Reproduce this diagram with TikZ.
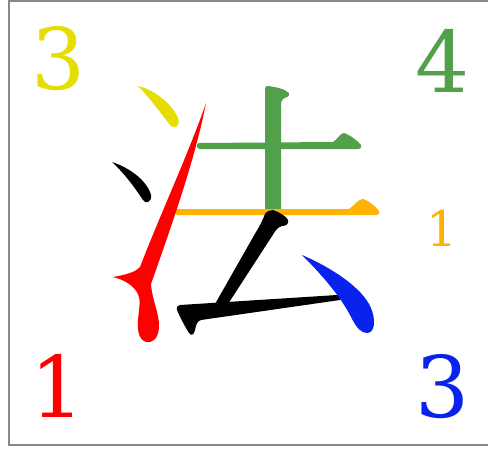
\documentclass[tikz,border=0pt]{standalone}
\usepackage{fontspec}
\newfontfamily\numfont{DejaVu Serif}
\definecolor{yel}{RGB}{230,222,0}
\definecolor{grn}{RGB}{82,160,74}
\definecolor{org}{RGB}{255,179,0}
\definecolor{blu}{RGB}{10,34,238}
\definecolor{bordergray}{RGB}{136,136,136}
\tikzset{
  bignum/.style={inner sep=0pt, font=\numfont\fontsize{85}{85}\selectfont},
  smallnum/.style={inner sep=0pt, font=\numfont\fontsize{49}{49}\selectfont}
}
\begin{document}
\begin{tikzpicture}[x=1pt,y=-1pt]
\useasboundingbox (0,0) rectangle (488,448);
\fill[white] (0,0) rectangle (488,448);
\begin{scope}
\clip (0,0) rectangle (488,448);
\draw[bordergray, line width=2pt] (9,1) rectangle (500,445);
\end{scope}
% green vertical
\fill[grn] (265,210) -- (265,89) .. controls (265,86) and (266,86) .. (268,86)
  .. controls (276,87) and (285,89) .. (289,93) .. controls (290,97) and (286,97) .. (283,99)
  .. controls (281,101) and (281,103) .. (281,106) -- (281,210) -- cycle;
% green horizontal
\fill[grn] (199,143) -- (333,142) .. controls (337,140) and (340,133) .. (344,133)
  .. controls (350,135) and (358,141) .. (361,145) .. controls (362,148) and (360,149) .. (357,149)
  -- (200,149) .. controls (196,149) and (196,143) .. (199,143) -- cycle;
% orange horizontal
\fill[org] (178,209) -- (349,209) .. controls (354,206) and (358,199) .. (363,199)
  .. controls (368,200) and (376,207) .. (379,211) .. controls (380,214) and (378,215) .. (375,215)
  -- (178,215) .. controls (174,215) and (174,209) .. (178,209) -- cycle;
% black diagonal
\fill[black] (265,214) .. controls (267,211) and (270,210) .. (273,210)
  .. controls (279,212) and (286,216) .. (288,220) .. controls (289,224) and (286,226) .. (282,226)
  .. controls (279,227) and (278,228) .. (276,230) -- (228,304) -- (215,304) -- (256,232)
  .. controls (261,224) and (263,219) .. (265,214) -- cycle;
% black bottom horizontal
\fill[black] (180,305) -- (337,295) .. controls (341,295) and (343,298) .. (340,300)
  -- (201,320) .. controls (197,321) and (196,325) .. (195,330)
  .. controls (194,335) and (191,336) .. (189,333) .. controls (184,325) and (179,315) .. (177,310)
  .. controls (176,307) and (178,305) .. (180,305) -- cycle;
% blue
\fill[blu] (302,255) .. controls (330,267) and (362,287) .. (371,308)
  .. controls (376,320) and (375,333) .. (367,333) .. controls (361,333) and (357,328) .. (352,319)
  .. controls (343,300) and (325,278) .. (302,255) -- cycle;
% red
\fill[red] (206,103) .. controls (195,160) and (170,230) .. (151,284)
  .. controls (152,300) and (160,315) .. (159,328) .. controls (158,340) and (151,343) .. (147,342)
  .. controls (140,341) and (137,333) .. (138,320) .. controls (139,308) and (141,300) .. (138,294)
  .. controls (134,286) and (125,280) .. (113,277) .. controls (125,275) and (136,272) .. (140,267)
  .. controls (160,215) and (190,150) .. (206,103) -- cycle;
% yellow dot
\fill[yel] (138,86) .. controls (155,90) and (172,104) .. (178,118)
  .. controls (181,126) and (175,129) .. (171,126) .. controls (162,115) and (150,98) .. (138,86) -- cycle;
% black dot
\fill[black] (112,162) .. controls (128,167) and (147,180) .. (151,195)
  .. controls (152,203) and (145,204) .. (143,200) .. controls (135,188) and (125,174) .. (112,162) -- cycle;
% numbers
\node[bignum, text=yel] (n3y) at (59,59) {3};
\node[bignum, text=grn] (n4g) at (443,61) {4};
\node[smallnum, text=org] (n1o) at (442,228) {1};
\node[bignum, text=red] (n1r) at (58,386) {1};
\node[bignum, text=blu] (n3b) at (443,387) {3};
\end{tikzpicture}
\end{document}
